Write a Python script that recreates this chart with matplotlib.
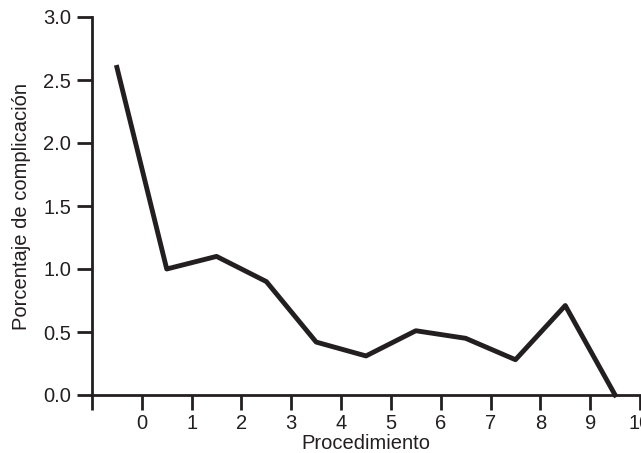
import matplotlib.pyplot as plt

plt.rcParams['font.family'] = ['Liberation Sans', 'DejaVu Sans']

# datos
proc = [-0.5, 0.5, 1.5, 2.5, 3.5, 4.5, 5.5, 6.5, 7.5, 8.5, 9.5]
porcentaje = [2.6, 1.0, 1.1, 0.9, 0.42, 0.31, 0.51, 0.45, 0.28, 0.71, 0.0]
xticks = list(range(-1, 11))
xlabels = [''] + [str(i) for i in range(0, 11)]
yticks = [0.0, 0.5, 1.0, 1.5, 2.0, 2.5, 3.0]

color = '#231f20'

fig = plt.figure(figsize=(6.41, 4.53), dpi=100)
ax = fig.add_axes([92 / 641, 58 / 453, 548 / 641, 378 / 453])

ax.plot(proc, porcentaje, color=color, lw=3.5, solid_joinstyle='round', clip_on=False)

ax.set_xlim(-1, 10)
ax.set_ylim(0, 3.0)
ax.set_xticks(xticks)
ax.set_xticklabels(xlabels)
ax.set_yticks(yticks)
ax.set_yticklabels(['%.1f' % v for v in yticks])

for s in ['top', 'right']:
    ax.spines[s].set_visible(False)
for s in ['left', 'bottom']:
    ax.spines[s].set_linewidth(2)
    ax.spines[s].set_color(color)

ax.tick_params(axis='x', direction='out', length=11, width=2, color=color,
               labelsize=14.5, pad=3, labelcolor=color)
ax.tick_params(axis='y', direction='out', length=11, width=2, color=color,
               labelsize=14.5, pad=4, labelcolor=color)

ax.set_xlabel('Procedimiento', fontsize=14.5, color=color, labelpad=0.5)
ax.set_ylabel('Porcentaje de complicación', fontsize=14.5, color=color, labelpad=9)

plt.savefig('out.png', dpi=100)
